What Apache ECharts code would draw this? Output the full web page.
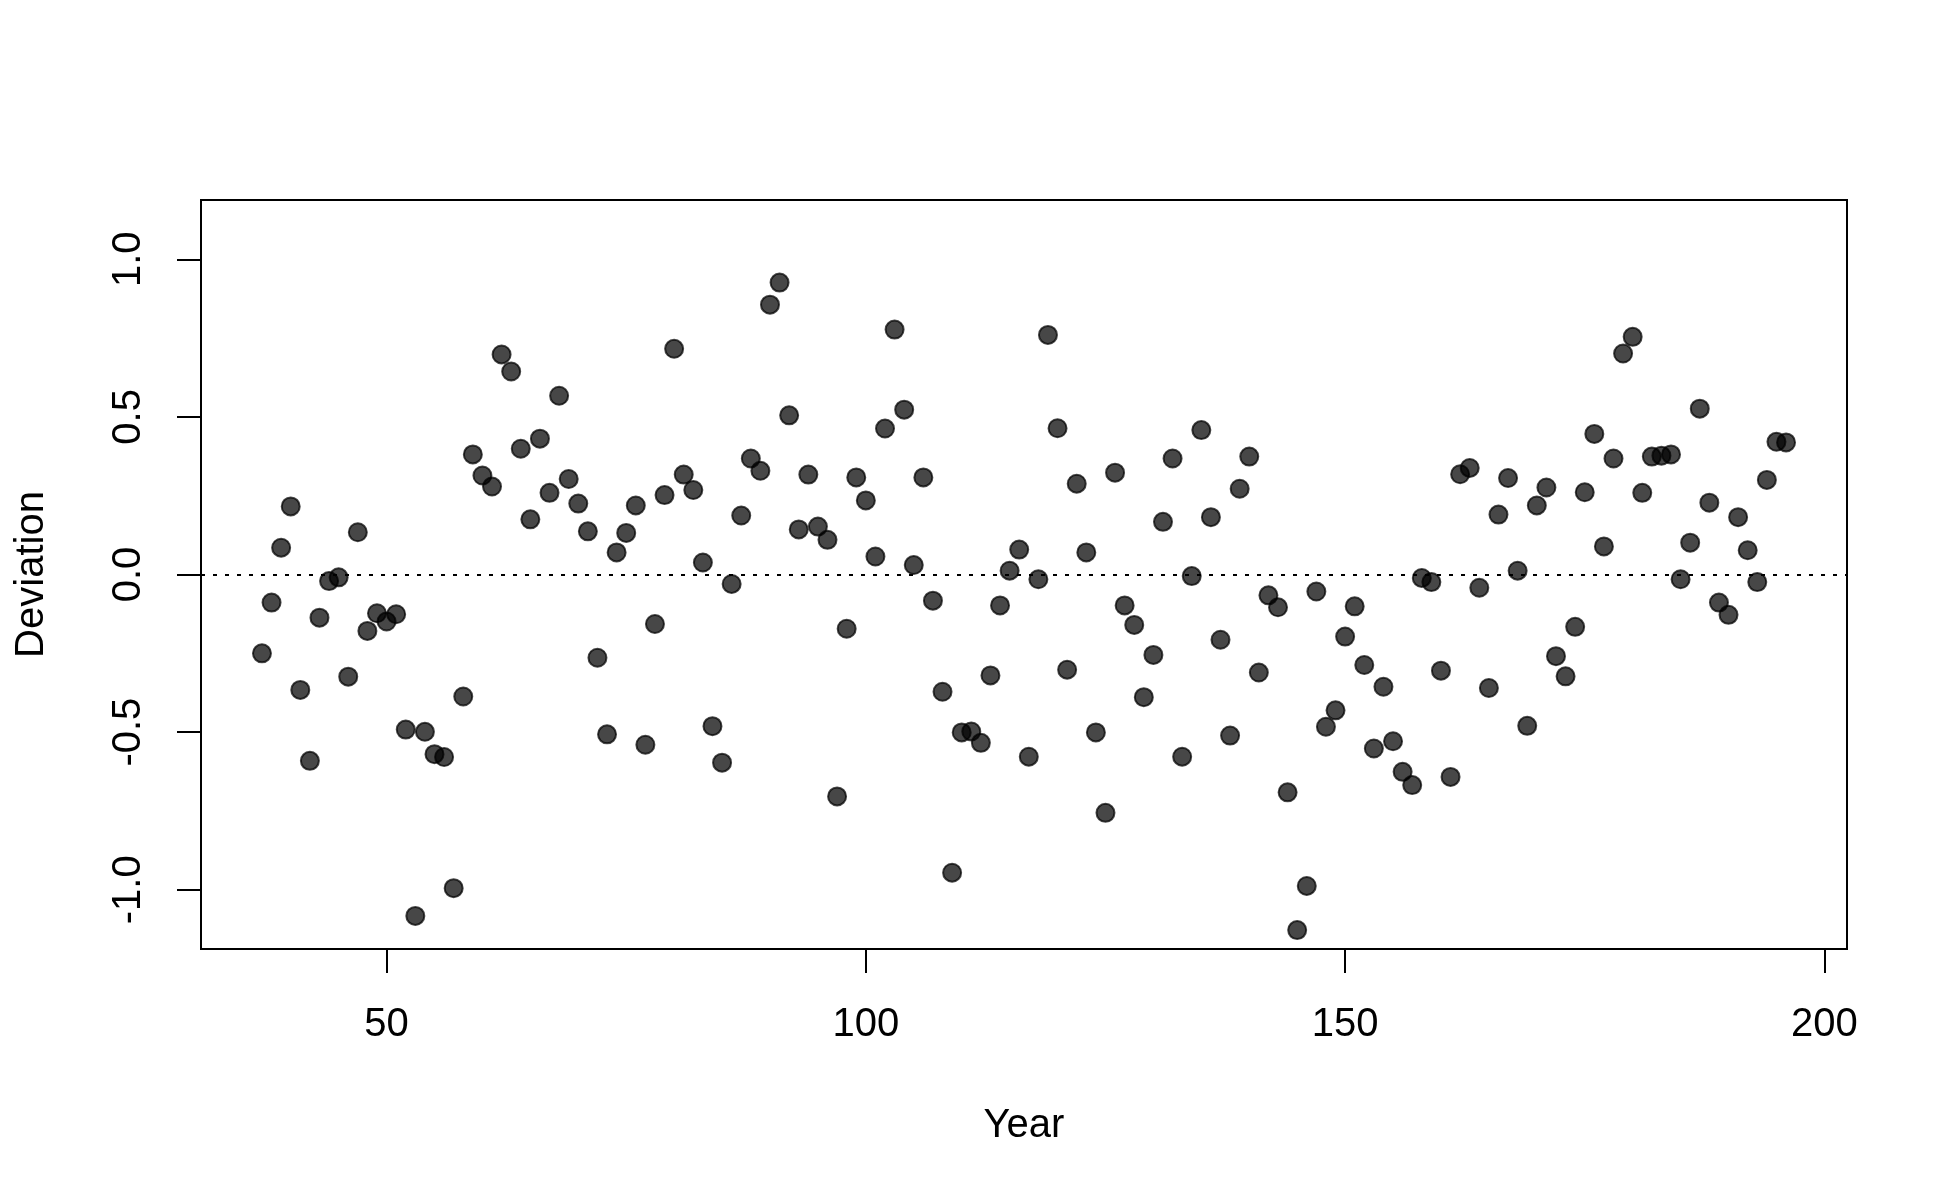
<!DOCTYPE html>
<html>
<head>
<meta charset="utf-8">
<script src="https://cdn.jsdelivr.net/npm/echarts@6/dist/echarts.min.js"></script>
<style>
  html, body { margin: 0; padding: 0; background: #ffffff; }
  #chart { width: 1950px; height: 1200px; }
</style>
</head>
<body>
<div id="chart"></div>
<script>
var years = [37,38,39,40,41,42,43,44,45,46,47,48,49,50,51,52,53,54,55,56,57,58,59,60,61,62,63,64,65,66,67,68,69,70,71,72,73,74,75,76,77,78,79,80,81,82,83,84,85,86,87,88,89,90,91,92,93,94,95,96,97,98,99,100,101,102,103,104,105,106,107,108,109,110,111,112,113,114,115,116,117,118,119,120,121,122,123,124,125,126,127,128,129,130,131,132,133,134,135,136,137,138,139,140,141,142,143,144,145,146,147,148,149,150,151,152,153,154,155,156,157,158,159,160,161,162,163,164,165,166,167,168,169,170,171,172,173,174,175,176,177,178,179,180,181,182,183,184,185,186,187,188,189,190,191,192,193,194,195,196];
var deviation = [-0.250,-0.089,0.085,0.216,-0.366,-0.591,-0.137,-0.021,-0.009,-0.324,0.134,-0.179,-0.123,-0.149,-0.126,-0.492,-1.083,-0.499,-0.570,-0.579,-0.995,-0.387,0.381,0.314,0.279,0.698,0.644,0.399,0.175,0.431,0.259,0.567,0.303,0.225,0.137,-0.264,-0.507,0.070,0.132,0.219,-0.540,-0.157,0.252,0.716,0.317,0.268,0.038,-0.481,-0.597,-0.030,0.187,0.368,0.329,0.856,0.926,0.505,0.143,0.317,0.152,0.110,-0.704,-0.172,0.308,0.235,0.057,0.463,0.777,0.523,0.030,0.308,-0.083,-0.372,-0.946,-0.501,-0.498,-0.534,-0.320,-0.098,0.012,0.079,-0.578,-0.015,0.760,0.464,-0.302,0.288,0.070,-0.501,-0.756,0.323,-0.098,-0.160,-0.389,-0.255,0.167,0.368,-0.578,-0.005,0.458,0.182,-0.207,-0.511,0.272,0.374,-0.311,-0.066,-0.104,-0.691,-1.128,-0.988,-0.054,-0.483,-0.431,-0.197,-0.101,-0.287,-0.552,-0.356,-0.529,-0.626,-0.668,-0.011,-0.024,-0.305,-0.642,0.318,0.338,-0.042,-0.360,0.190,0.306,0.012,-0.480,0.219,0.276,-0.259,-0.323,-0.166,0.261,0.446,0.089,0.368,0.701,0.754,0.259,0.374,0.377,0.381,-0.015,0.101,0.526,0.228,-0.089,-0.128,0.182,0.077,-0.024,0.300,0.421,0.419];
var xTicks = [50, 100, 150, 200];
var yTicks = [-1.0, -0.5, 0.0, 0.5, 1.0];
var xRange = [30.64, 202.36];
var yRange = [-1.188, 1.188];
var refLine = 0;

var points = years.map(function (y, i) { return [y, deviation[i]]; });
var FONT = '"Liberation Sans", Arial, sans-serif';

var chart = echarts.init(document.getElementById('chart'), null, { renderer: 'canvas' });
chart.setOption({
  backgroundColor: '#ffffff',
  animation: false,
  grid: {
    left: 201, right: 103, top: 200, bottom: 251,
    show: true, borderColor: '#000', borderWidth: 2, backgroundColor: 'transparent'
  },
  xAxis: {
    type: 'value',
    min: xRange[0], max: xRange[1],
    name: 'Year',
    nameLocation: 'middle',
    nameGap: 157,
    nameTextStyle: { fontFamily: FONT, fontSize: 40, color: '#000' },
    axisLine: { show: true, onZero: false, lineStyle: { color: '#000', width: 2 } },
    axisTick: { show: true, inside: false, length: 24, customValues: xTicks, lineStyle: { color: '#000', width: 2 } },
    axisLabel: { show: true, margin: 56, customValues: xTicks, fontFamily: FONT, fontSize: 40, color: '#000',
      formatter: function (v) { return String(v); } },
    splitLine: { show: false }
  },
  yAxis: {
    type: 'value',
    min: yRange[0], max: yRange[1],
    name: 'Deviation',
    nameLocation: 'middle',
    nameGap: 149,
    nameRotate: 90,
    nameTextStyle: { fontFamily: FONT, fontSize: 40, color: '#000' },
    axisLine: { show: true, onZero: false, lineStyle: { color: '#000', width: 2 } },
    axisTick: { show: true, inside: false, length: 24, customValues: yTicks, lineStyle: { color: '#000', width: 2 } },
    axisLabel: { show: true, margin: 52, rotate: 90, customValues: yTicks, fontFamily: FONT, fontSize: 40, color: '#000',
      formatter: function (v) { return v.toFixed(1); } },
    splitLine: { show: false }
  },
  series: [{
    type: 'scatter',
    data: points,
    symbol: 'circle',
    symbolSize: 18,
    itemStyle: { color: 'rgba(0,0,0,0.72)', borderColor: 'rgba(0,0,0,0.72)', borderWidth: 2, opacity: 1 },
    emphasis: { disabled: true },
    markLine: {
      silent: true,
      symbol: ['none', 'none'],
      label: { show: false },
      lineStyle: { color: '#000', width: 2, type: [4, 8] },
      data: [{ yAxis: refLine }]
    }
  }]
});
</script>
</body>
</html>
